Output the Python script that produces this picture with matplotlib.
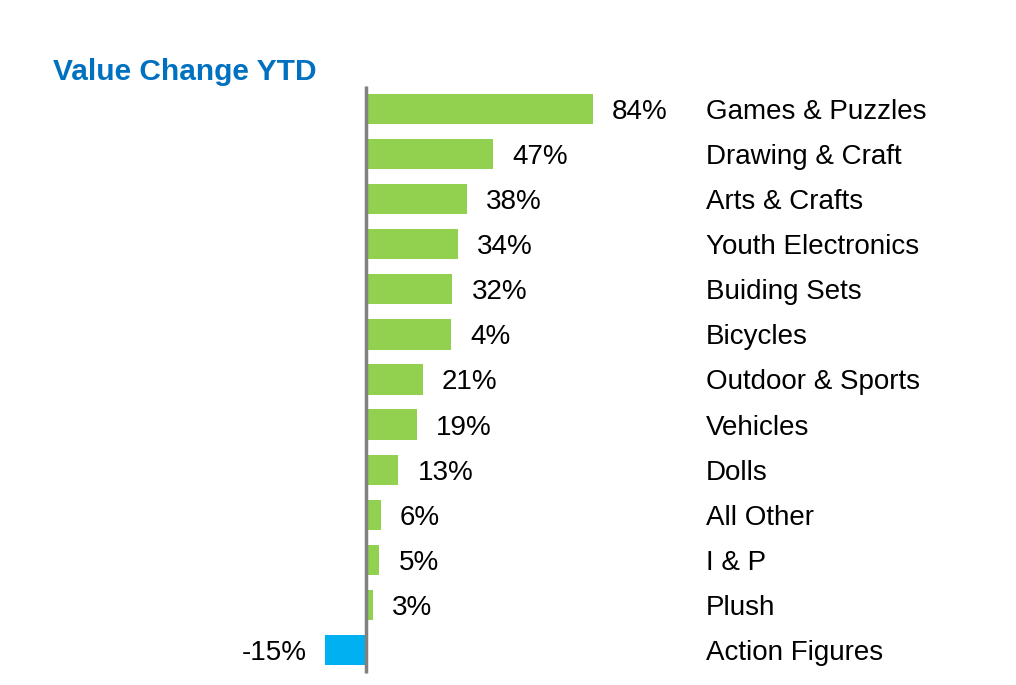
import matplotlib.pyplot as plt

# values (bar lengths, in %)
categories = ["Games & Puzzles", "Drawing & Craft", "Arts & Crafts", "Youth Electronics",
              "Buiding Sets", "Bicycles", "Outdoor & Sports", "Vehicles", "Dolls",
              "All Other", "I & P", "Plush", "Action Figures"]
values = [84, 47, 37.5, 34, 32, 31.5, 21, 19, 12, 5.5, 5, 2.5, -15]
# printed labels (as shown on the chart)
value_labels = ["84%", "47%", "38%", "34%", "32%", "4%", "21%", "19%", "13%",
                "6%", "5%", "3%", "-15%"]

GREEN = "#92D050"
BLUE = "#00B0F0"
TITLE_BLUE = "#0070C0"
FONT = "Liberation Sans"

W, H = 1016, 685
fig = plt.figure(figsize=(W / 100, H / 100), dpi=100)
ax = fig.add_axes([0, 0, 1, 1])

px_per_unit = 2.70     # pixels per percent
zero_px = 366
pitch = 45.08          # pixels between bars
first_px = 109

ax.set_xlim(-zero_px / px_per_unit, (W - zero_px) / px_per_unit)
ax.set_ylim((H - first_px) / pitch, -first_px / pitch)
ax.axis("off")

ypos = list(range(len(categories)))
colors = [GREEN if v >= 0 else BLUE for v in values]
ax.barh(ypos, values, height=0.67, color=colors, edgecolor="none", zorder=2)

# zero axis line
ax.vlines(0, -0.52, len(categories) - 0.48, color="#808080", linewidth=2.5, zorder=3)

gap = 19 / px_per_unit
label_x = (706 - zero_px) / px_per_unit
dy = 3 / pitch   # text sits a touch lower than bar centre
for y, v, lab, cat in zip(ypos, values, value_labels, categories):
    if v >= 0:
        ax.text(v + gap, y + dy, lab, ha="left", va="center", fontsize=20, family=FONT)
    else:
        ax.text(v - gap, y + dy, lab, ha="right", va="center", fontsize=20, family=FONT)
    ax.text(label_x, y + dy, cat, ha="left", va="center", fontsize=20, family=FONT)

fig.text(53 / W, 1 - 80 / H, "Value Change YTD", ha="left", va="baseline",
         fontsize=21.5, fontweight="bold", color=TITLE_BLUE, family=FONT)

fig.savefig("out.png", dpi=100)
